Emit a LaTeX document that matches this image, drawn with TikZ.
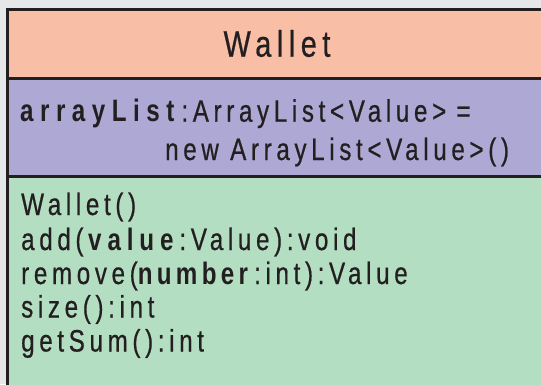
\documentclass[tikz,border=0pt]{standalone}
\usepackage{fontspec}
\setmainfont{Liberation Sans}[FakeStretch=0.78,
  UprightFeatures={FakeBold=0.6,LetterSpace=15},
  BoldFeatures={LetterSpace=19}]
% bold member names, each with its own tracking
\newfontfamily\wideboldfont{Liberation Sans}[FakeStretch=0.78,
  BoldFeatures={LetterSpace=21}]
\newfontfamily\tightboldfont{Liberation Sans}[FakeStretch=0.78,
  BoldFeatures={LetterSpace=14}]
\definecolor{pagebg}{RGB}{230,231,233}
\definecolor{headfill}{RGB}{249,190,166}
\definecolor{attrfill}{RGB}{173,168,212}
\definecolor{opfill}{RGB}{180,222,194}
\definecolor{ink}{RGB}{35,31,32}
\begin{document}
\begin{tikzpicture}[x=1pt,y=-1pt,
  compartment/.style={draw=ink,line width=3pt,minimum width=539pt,
    anchor=north west,inner sep=0pt,outer sep=0pt},
  member/.style={anchor=base west,inner sep=0pt,text=ink,
    font=\fontsize{31}{36}\selectfont},
  classname/.style={anchor=base,inner sep=0pt,text=ink,
    font=\fontsize{37}{42}\selectfont}]
\useasboundingbox (0,0) rectangle (541,384);
\clip (0,0) rectangle (541,384);
\fill[pagebg] (0,0) rectangle (541,384);
% class compartments
\node[compartment,fill=opfill,minimum height=216pt] (ops) at (7,176) {};
\node[compartment,fill=attrfill,minimum height=98pt] (attrs) at (7,78) {};
\node[compartment,fill=headfill,minimum height=69pt] (head) at (7,9) {};
% class name
\node[classname] (title) at (277,56.7) {Wallet};
% attribute
\node[member] (attr1) at (20,121.7) {{\wideboldfont\bfseries arrayList}\hspace{7pt}:ArrayList<Value>\,\,=};
\node[member] (attr2) at (165,160) {new ArrayList<Value>()};
% operations
\node[member] (op1) at (21,215) {Wallet()};
\node[member] (op2) at (21,250) {add(\textbf{value}:Value):void};
\node[member] (op3) at (21,284) {remove({\tightboldfont\bfseries number}\hspace{6pt}:int):Value};
\node[member] (op4) at (21,317.5) {size():int};
\node[member] (op5) at (21,351.5) {getSum():int};
\end{tikzpicture}
\end{document}
